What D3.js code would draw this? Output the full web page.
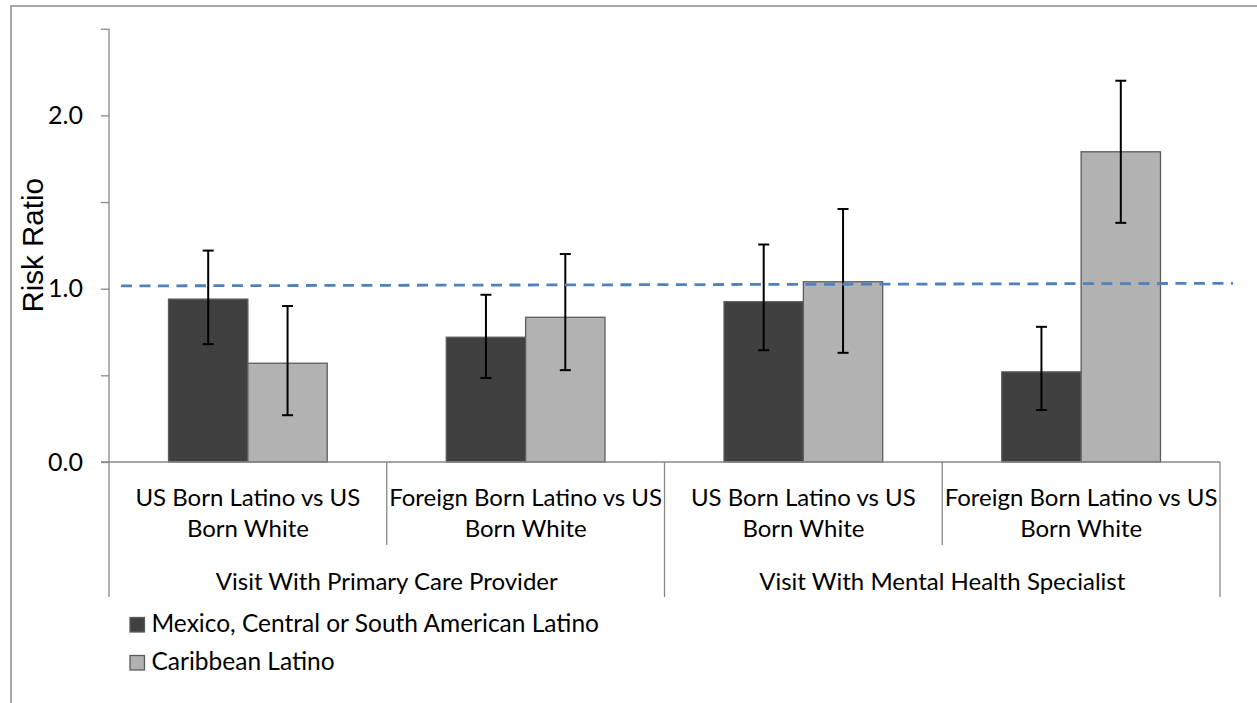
<!DOCTYPE html>
<html>
<head>
<meta charset="utf-8">
<script src="https://cdn.jsdelivr.net/npm/d3@7"></script>
<style>
  body { margin: 0; background: #ffffff; }
  svg { display: block; }
</style>
</head>
<body>
<svg id="chart" width="1257" height="703"></svg>
<script>
// ---- data ----
const comparisons = [
  ["US Born Latino vs US", "Born White"],
  ["Foreign Born Latino vs US", "Born White"],
  ["US Born Latino vs US", "Born White"],
  ["Foreign Born Latino vs US", "Born White"]
];
const visitTypes = ["Visit With Primary Care Provider", "Visit With Mental Health Specialist"];
const seriesNames = ["Mexico, Central or South American Latino", "Caribbean Latino"];

const mexCentSouth     = [0.94, 0.72, 0.925, 0.52];
const mexCentSouthLow  = [0.68, 0.485, 0.645, 0.30];
const mexCentSouthHigh = [1.22, 0.965, 1.255, 0.78];

const caribbean     = [0.57, 0.835, 1.04, 1.79];
const caribbeanLow  = [0.27, 0.53, 0.63, 1.38];
const caribbeanHigh = [0.90, 1.20, 1.46, 2.20];

const yTicks = [0, 0.5, 1, 1.5, 2, 2.5];
const yTickLabels = ["0.0", "", "1.0", "", "2.0", ""];

// reference line (risk ratio ~1), x in comparison units
const refLineX = [0.043, 4.047];
const refLineY = [1.016, 1.031];

// ---- layout ----
const W = 1257, H = 703;
const plot = { left: 109, right: 1220, top: 28.75, bottom: 462 };
const colors = ["#404040", "#b2b2b2"];
const labelFont = "Lato, 'Open Sans', sans-serif";

const svg = d3.select("#chart");

// chart frame
svg.append("rect")
  .attr("x", 11).attr("y", 6)
  .attr("width", W + 20).attr("height", H + 20)
  .attr("fill", "none").attr("stroke", "#8a8a8a").attr("stroke-width", 1.5);

const y = d3.scaleLinear().domain([0, 2.5]).range([plot.bottom, plot.top]);
const x0 = d3.scaleBand().domain(d3.range(comparisons.length))
  .range([plot.left, plot.right]).paddingInner(0).paddingOuter(0);
const x1 = d3.scaleBand().domain(d3.range(seriesNames.length))
  .range([0, x0.bandwidth()]).paddingInner(0).paddingOuter(0.75);
const xParent = d3.scaleBand().domain(d3.range(visitTypes.length))
  .range([plot.left, plot.right]);
const xLin = d3.scaleLinear().domain([0, comparisons.length]).range([plot.left, plot.right]);

// y axis
const yAxis = d3.axisLeft(y)
  .tickValues(yTicks)
  .tickFormat((d, i) => yTickLabels[i])
  .tickSize(8)
  .tickPadding(18);
const gy = svg.append("g")
  .attr("transform", `translate(${plot.left},0)`)
  .call(yAxis);
gy.select(".domain").attr("stroke", "#878787").attr("stroke-width", 1.3)
  .attr("d", `M0,${plot.top}V${plot.bottom}`);
gy.selectAll(".tick line").attr("stroke", "#878787").attr("stroke-width", 1.3);
gy.selectAll(".tick text")
  .attr("font-family", labelFont).attr("font-size", 25).attr("fill", "#000");

// y axis title
svg.append("text")
  .attr("transform", `translate(43,${(plot.top + plot.bottom) / 2}) rotate(-90)`)
  .attr("text-anchor", "middle")
  .attr("font-family", "'Liberation Sans', Arial, sans-serif")
  .attr("font-size", 29.5)
  .attr("fill", "#000")
  .text("Risk Ratio");

// bars
const series = [
  { name: seriesNames[0], vals: mexCentSouth, lo: mexCentSouthLow, hi: mexCentSouthHigh },
  { name: seriesNames[1], vals: caribbean, lo: caribbeanLow, hi: caribbeanHigh }
];

const groups = svg.append("g").selectAll("g")
  .data(d3.range(comparisons.length))
  .join("g")
  .attr("transform", i => `translate(${x0(i)},0)`);

groups.selectAll("rect")
  .data(i => series.map((s, k) => ({ k, v: s.vals[i] })))
  .join("rect")
  .attr("x", d => x1(d.k))
  .attr("y", d => y(d.v))
  .attr("width", x1.bandwidth())
  .attr("height", d => y(0) - y(d.v))
  .attr("fill", d => colors[d.k])
  .attr("stroke", "#5c5c5c")
  .attr("stroke-width", 1.3);

// x axis baseline and category dividers
const axisColor = "#878787";
svg.append("line")
  .attr("x1", plot.left - 8).attr("x2", plot.right)
  .attr("y1", y(0)).attr("y2", y(0))
  .attr("stroke", axisColor).attr("stroke-width", 1.3);

const dividers = svg.append("g").attr("stroke", axisColor).attr("stroke-width", 1.3);
// outer dividers between visit types (extend through both label rows)
d3.range(visitTypes.length + 1).forEach(j => {
  const xx = j < visitTypes.length ? xParent(j) : plot.right;
  dividers.append("line")
    .attr("x1", xx).attr("x2", xx)
    .attr("y1", y(0)).attr("y2", 597);
});
// inner dividers between comparisons
d3.range(1, comparisons.length).forEach(i => {
  if (i % 2 === 0) return;
  dividers.append("line")
    .attr("x1", x0(i)).attr("x2", x0(i))
    .attr("y1", y(0)).attr("y2", 545);
});

// comparison labels
const catLabels = svg.append("g")
  .attr("font-family", labelFont).attr("font-size", 24)
  .attr("fill", "#000").attr("text-anchor", "middle");
comparisons.forEach((lines, i) => {
  const t = catLabels.append("text")
    .attr("x", x0(i) + x0.bandwidth() / 2)
    .attr("y", 505.5);
  lines.forEach((ln, li) => {
    t.append("tspan")
      .attr("x", x0(i) + x0.bandwidth() / 2)
      .attr("dy", li === 0 ? 0 : 31)
      .text(ln);
  });
});
// visit type labels
visitTypes.forEach((v, j) => {
  catLabels.append("text")
    .attr("x", xParent(j) + xParent.bandwidth() / 2)
    .attr("y", 590)
    .text(v);
});

// error bars
const capHalf = 5.5;
const err = svg.append("g").attr("stroke", "#000").attr("stroke-width", 2);
series.forEach((s, k) => {
  s.vals.forEach((v, i) => {
    const cx = x0(i) + x1(k) + x1.bandwidth() / 2;
    err.append("line").attr("x1", cx).attr("x2", cx)
      .attr("y1", y(s.lo[i])).attr("y2", y(s.hi[i]));
    [s.lo[i], s.hi[i]].forEach(e => {
      err.append("line")
        .attr("x1", cx - capHalf).attr("x2", cx + capHalf)
        .attr("y1", y(e)).attr("y2", y(e));
    });
  });
});

// dashed reference line
svg.append("line")
  .attr("x1", xLin(refLineX[0])).attr("x2", xLin(refLineX[1]))
  .attr("y1", y(refLineY[0])).attr("y2", y(refLineY[1]))
  .attr("stroke", "#4f81bd")
  .attr("stroke-width", 2.8)
  .attr("stroke-dasharray", "11,7.5");

// legend
const legend = svg.append("g");
series.forEach((s, k) => {
  const ly = 617.5 + k * 38;
  legend.append("rect")
    .attr("x", 130).attr("y", ly)
    .attr("width", 14.5).attr("height", 14.5)
    .attr("fill", colors[k]).attr("stroke", "#5c5c5c").attr("stroke-width", 1.3);
  legend.append("text")
    .attr("x", 151.5).attr("y", ly + 14.2)
    .attr("font-family", labelFont).attr("font-size", 24.5)
    .attr("fill", "#000")
    .text(s.name);
});
</script>
</body>
</html>
